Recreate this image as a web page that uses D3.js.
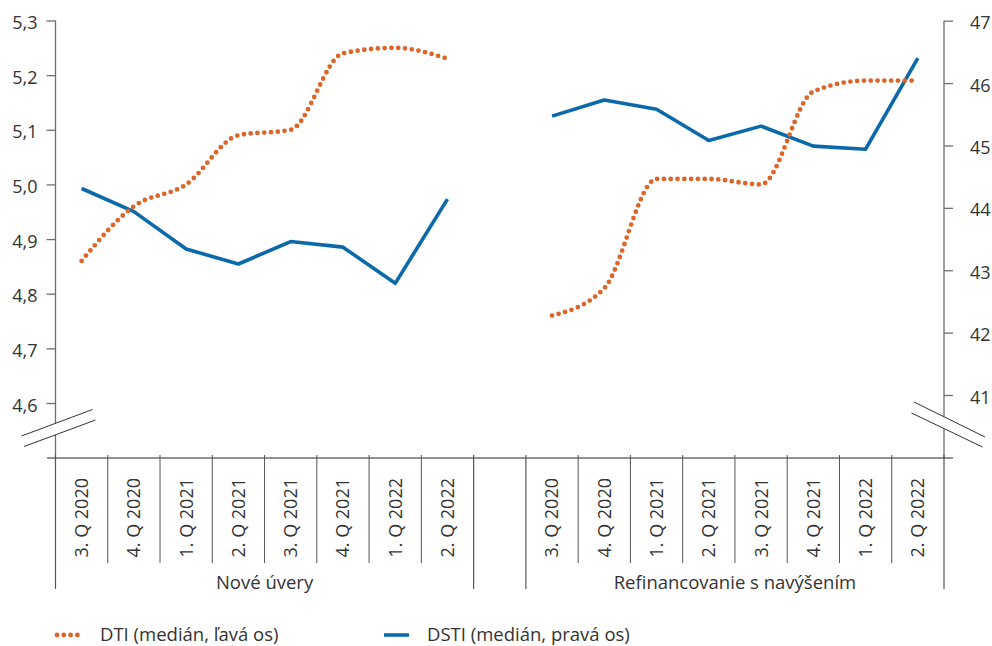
<!DOCTYPE html>
<html>
<head>
<meta charset="utf-8">
<script src="https://cdn.jsdelivr.net/npm/d3@7"></script>
<style>
  html, body { margin: 0; padding: 0; background: #fff; }
  svg { display: block; }
  text { font-family: "Open Sans", sans-serif; fill: #333; }
</style>
</head>
<body>
<svg id="chart" width="992" height="646"></svg>
<script>
// ---- data ----
const categories = ["3. Q 2020", "4. Q 2020", "1. Q 2021", "2. Q 2021", "3. Q 2021", "4. Q 2021", "1. Q 2022", "2. Q 2022"];
const groups = ["Nové úvery", "Refinancovanie s navýšením"];
const dtiNew  = [4.86, 4.96, 5.00, 5.09, 5.10, 5.24, 5.25, 5.23];
const dtiRef  = [4.76, 4.81, 5.01, 5.01, 5.00, 5.17, 5.19, 5.19];
const dstiNew = [44.31, 43.94, 43.34, 43.10, 43.46, 43.37, 42.79, 44.14];
const dstiRef = [45.47, 45.73, 45.58, 45.08, 45.31, 44.99, 44.94, 46.40];
const leftTicks  = [4.6, 4.7, 4.8, 4.9, 5.0, 5.1, 5.2, 5.3];
const rightTicks = [41, 42, 43, 44, 45, 46, 47];
const legendLabels = ["DTI (medián, ľavá os)", "DSTI (medián, pravá os)"];

const ORANGE = "#dc652a";
const BLUE = "#0a69aa";
const AXIS = "#6e6e6e";

const svg = d3.select("#chart");
const nSlots = categories.length * 2 + 1;
const x = d3.scaleBand().domain(d3.range(nSlots)).range([55.5, 944]).paddingInner(0).paddingOuter(0);
const yL = d3.scaleLinear().domain([4.6, 5.3]).range([403, 20.5]);
const yR = d3.scaleLinear().domain([41, 47]).range([395, 20.7]);
const xAxisY = 458;
const slot = (g, i) => g * (categories.length + 1) + i;
const cx = (g, i) => x(slot(g, i)) + x.bandwidth() / 2;
const fmt = v => d3.format(".1f")(v).replace(".", ",");

// ---- left axis ----
const gL = svg.append("g").attr("transform", `translate(${x.range()[0]},0)`)
  .call(d3.axisLeft(yL).tickValues(leftTicks).tickFormat(fmt).tickSize(9).tickPadding(9).tickSizeOuter(0));
gL.select(".domain").remove();
gL.selectAll(".tick line").attr("stroke", AXIS).attr("stroke-width", 1.3);
gL.selectAll(".tick text").attr("font-size", 18).attr("dy", "0.45em").style("font-family", "Open Sans").attr("fill", "#333");
svg.append("line").attr("x1", x.range()[0]).attr("x2", x.range()[0])
  .attr("y1", yL(5.3)).attr("y2", xAxisY + 1).attr("stroke", AXIS).attr("stroke-width", 1.3);

// ---- right axis ----
const gR = svg.append("g").attr("transform", `translate(${x.range()[1]},0)`)
  .call(d3.axisRight(yR).tickValues(rightTicks).tickFormat(d3.format("d")).tickSize(9).tickPadding(17).tickSizeOuter(0));
gR.select(".domain").remove();
gR.selectAll(".tick line").attr("stroke", AXIS).attr("stroke-width", 1.3);
gR.selectAll(".tick text").attr("font-size", 18).attr("dy", "0.45em").style("font-family", "Open Sans").attr("fill", "#333");
svg.append("line").attr("x1", x.range()[1]).attr("x2", x.range()[1])
  .attr("y1", yR(47)).attr("y2", xAxisY + 1).attr("stroke", AXIS).attr("stroke-width", 1.3);

// ---- axis breaks ----
function brk(l1, l2) {
  svg.append("polygon")
    .attr("points", [l1[0], l1[1], l2[1], l2[0]].map(p => p.join(",")).join(" "))
    .attr("fill", "#fff");
  [l1, l2].forEach(l => svg.append("line")
    .attr("x1", l[0][0]).attr("y1", l[0][1]).attr("x2", l[1][0]).attr("y2", l[1][1])
    .attr("stroke", "#333").attr("stroke-width", 1));
}
brk([[21.5, 436], [92.5, 409.5]], [[24, 446.5], [95.5, 420]]);
brk([[914, 402], [985, 437]], [[911.5, 413], [982.5, 447]]);

// ---- x axis ----
svg.append("line").attr("x1", 47).attr("x2", 953).attr("y1", xAxisY).attr("y2", xAxisY)
  .attr("stroke", AXIS).attr("stroke-width", 1.3);

groups.forEach((gname, g) => {
  const start = x(slot(g, 0));
  const end = x(slot(g, categories.length - 1)) + x.bandwidth();
  // separators
  d3.range(categories.length + 1).forEach(k => {
    const xx = start + k * x.bandwidth();
    const outer = (k === 0 || k === categories.length);
    svg.append("line").attr("x1", xx).attr("x2", xx)
      .attr("y1", xAxisY - 3).attr("y2", outer ? 589 : 563)
      .attr("stroke", "#555").attr("stroke-width", outer ? 1.2 : 1);
  });
  // category labels
  categories.forEach((c, i) => {
    svg.append("text")
      .attr("transform", `translate(${cx(g, i)},478) rotate(-90)`)
      .attr("text-anchor", "end").attr("dy", "0.36em")
      .attr("font-size", 18).text(c);
  });
  // group label
  svg.append("text").attr("x", (start + end) / 2).attr("y", 589)
    .attr("text-anchor", "middle").attr("font-size", 18.5).text(gname);
});

// ---- lines ----
const lineL = d3.line().x(d => cx(d.g, d.i)).y(d => yL(d.v)).curve(d3.curveMonotoneX);
const lineR = d3.line().x(d => cx(d.g, d.i)).y(d => yR(d.v));
[[dtiNew, dstiNew], [dtiRef, dstiRef]].forEach(([dti, dsti], g) => {
  svg.append("path").datum(dsti.map((v, i) => ({g, i, v})))
    .attr("d", lineR).attr("fill", "none").attr("stroke", BLUE)
    .attr("stroke-width", 3.6).attr("stroke-linejoin", "round");
  svg.append("path").datum(dti.map((v, i) => ({g, i, v})))
    .attr("d", lineL).attr("fill", "none").attr("stroke", ORANGE)
    .attr("stroke-width", 4.8).attr("stroke-linecap", "round")
    .attr("stroke-dasharray", "0 6.8");
});

// ---- legend ----
const legY = 635;
svg.append("line").attr("x1", 57).attr("x2", 82).attr("y1", legY).attr("y2", legY)
  .attr("stroke", ORANGE).attr("stroke-width", 4.8).attr("stroke-linecap", "round")
  .attr("stroke-dasharray", "0 6.8");
svg.append("text").attr("x", 100).attr("y", 641).attr("font-size", 18.5).text(legendLabels[0]);
svg.append("line").attr("x1", 384).attr("x2", 409).attr("y1", legY).attr("y2", legY)
  .attr("stroke", BLUE).attr("stroke-width", 3.6);
svg.append("text").attr("x", 427).attr("y", 641).attr("font-size", 18.5).text(legendLabels[1]);
</script>
</body>
</html>
